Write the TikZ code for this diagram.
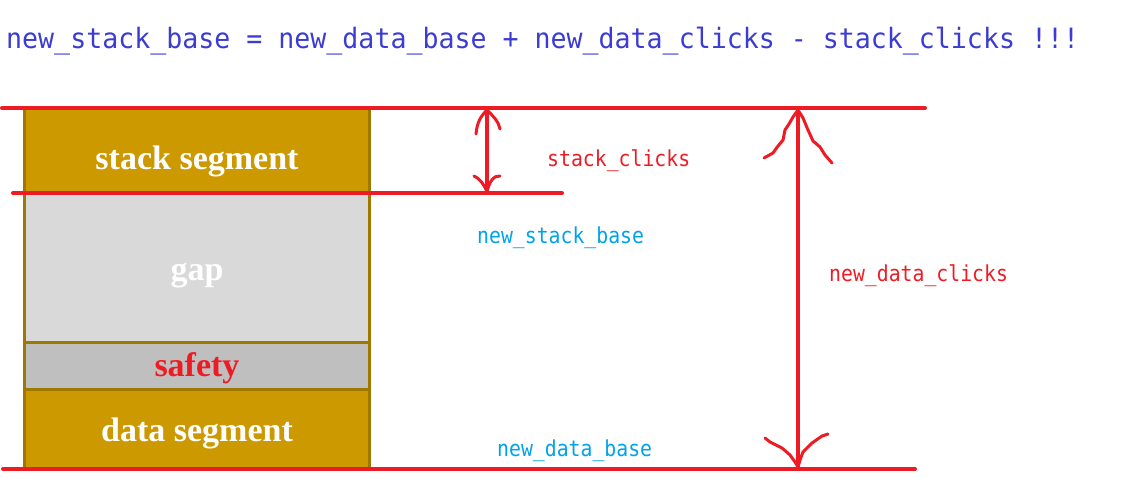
\documentclass[tikz,border=0pt]{standalone}
\usepackage{fontspec}
\setmainfont{Liberation Serif}
\newfontfamily\segfont{Liberation Serif}
\newfontfamily\monofont[FakeStretch=0.95]{DejaVu Sans Mono}
\newfontfamily\lblfont[FakeStretch=0.9]{DejaVu Sans Mono}
\definecolor{gold}{HTML}{CC9900}
\definecolor{goldedge}{HTML}{A07800}
\definecolor{gapgrey}{HTML}{D9D9D9}
\definecolor{safegrey}{HTML}{BFBFBF}
\definecolor{penred}{HTML}{ED1C24}
\definecolor{titleblue}{HTML}{3C3CD2}
\definecolor{lblblue}{HTML}{00A2E8}
\begin{document}
\begin{tikzpicture}[x=1pt,y=-1pt,
  layer/.style={draw=goldedge,line width=3pt},
  segtext/.style={inner sep=0pt,anchor=base,font=\segfont\bfseries\fontsize{34}{38}\selectfont},
  penline/.style={draw=penred,line width=4pt,line cap=round},
  penhead/.style={draw=penred,line width=3pt,line cap=round,line join=round},
  redlbl/.style={inner sep=0pt,anchor=base west,text=penred,font=\lblfont\fontsize{22}{24}\selectfont},
  bluelbl/.style={inner sep=0pt,anchor=base west,text=lblblue,font=\lblfont\fontsize{22}{24}\selectfont}]
\useasboundingbox (0,0) rectangle (1126,478);
% title
\node[inner sep=0pt,anchor=base west,text=titleblue,font=\monofont\fontsize{28}{30}\selectfont] (title) at (6,48.5) {new\_stack\_base = new\_data\_base + new\_data\_clicks - stack\_clicks !!!};
% memory layers
\draw[layer,fill=gold] (24,108) rectangle (369,193);
\draw[layer,fill=gapgrey] (24,193) rectangle (369,342);
\draw[layer,fill=safegrey] (24,342) rectangle (369,389);
\draw[layer,fill=gold] (24,389) rectangle (369,469);
\node[segtext,text=white] (stackseg) at (197,169.5) {stack segment};
\node[segtext,text=white] (gap) at (197,280) {gap};
\node[segtext,text=penred] (safety) at (197,376.5) {safety};
\node[segtext,text=white] (dataseg) at (197,441.5) {data segment};
% red lines
\coordinate (topL) at (2,108);
\coordinate (topR) at (925,108);
\coordinate (midL) at (13,193);
\coordinate (midR) at (562,193);
\coordinate (botL) at (3,469);
\coordinate (botR) at (915,469);
\draw[penline] (topL) -- (topR);
\draw[penline] (midL) -- (midR);
\draw[penline] (botL) -- (botR);
% small double arrow
\coordinate (sa) at (487,110);
\coordinate (sb) at (487,192);
\draw[penline] (sa) -- (sb);
\draw[penhead] (476,134) .. controls (477,122) and (481,116) .. (sa) .. controls (493,116) and (499,122) .. (500,129);
\draw[penhead] (474,176) .. controls (479,178) and (484,184) .. (sb) .. controls (489,182) and (494,175) .. (500,176);
% big double arrow
\coordinate (ba) at (798,110);
\coordinate (bb) at (798,467);
\draw[penline] (ba) -- (bb);
\draw[penhead] (764,158) -- (773,153) -- (778,146) -- (783,140) -- (785,130) -- (789,124) -- (793,117) -- (ba) -- (803,118) -- (808,130) -- (813,141) -- (820,147) -- (825,155) -- (832,163);
\draw[penhead] (765,438) -- (770,442) -- (782,448) -- (790,455) -- (795,462) -- (bb) -- (800,460) -- (803,452) -- (812,443) -- (822,436) -- (828,434);
% labels
\node[redlbl] (stackclicks) at (547,167) {stack\_clicks};
\node[bluelbl] (newstackbase) at (477,243.5) {new\_stack\_base};
\node[redlbl] (newdataclicks) at (829,281.5) {new\_data\_clicks};
\node[bluelbl] (newdatabase) at (497,456) {new\_data\_base};
\end{tikzpicture}
\end{document}
